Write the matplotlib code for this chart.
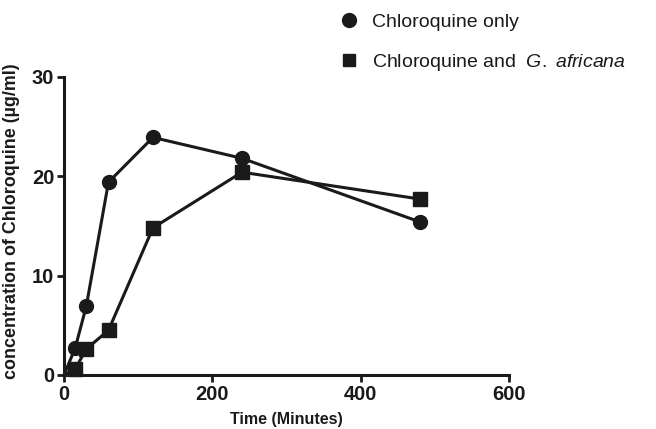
import matplotlib
matplotlib.use("Agg")
import matplotlib.pyplot as plt
from matplotlib.lines import Line2D

# data
time_min = [0, 15, 30, 60, 120, 240, 480]
cq_only = [0, 2.7, 6.9, 19.4, 23.9, 21.8, 15.4]
cq_ga = [0, 0.6, 2.6, 4.5, 14.8, 20.4, 17.7]
series_labels = ['Chloroquine only', 'Chloroquine and  $\\it{G.}$ $\\it{africana}$']

plt.rcParams['font.family'] = ['Liberation Sans', 'DejaVu Sans']
plt.rcParams['mathtext.fontset'] = 'custom'
plt.rcParams['mathtext.it'] = 'Liberation Sans:italic'
plt.rcParams['mathtext.rm'] = 'Liberation Sans'

ink = '#1a1a1a'
fig = plt.figure(figsize=(6.56, 4.29), dpi=100)
ax = fig.add_axes([0.0976, 0.126, 0.678, 0.695])

skip0 = list(range(1, len(time_min)))
ax.plot(time_min, cq_only, color=ink, lw=2.2, marker='o', ms=10,
        markevery=skip0, clip_on=False, zorder=3)
ax.plot(time_min, cq_ga, color=ink, lw=2.2, marker='s', ms=9.5,
        markevery=skip0, clip_on=False, zorder=3)

ax.set_xlim(0, 600)
ax.set_ylim(0, 30)
ax.set_xticks([0, 200, 400, 600])
ax.set_yticks([0, 10, 20, 30])

for s in ['top', 'right']:
    ax.spines[s].set_visible(False)
for s in ['left', 'bottom']:
    ax.spines[s].set_linewidth(2.2)
    ax.spines[s].set_color(ink)
ax.tick_params(width=2, length=5, color=ink, labelsize=14.5, pad=2)
for lbl in ax.get_xticklabels() + ax.get_yticklabels():
    lbl.set_fontweight('bold')
    lbl.set_color(ink)

ax.set_xlabel('Time (Minutes)', fontsize=11.5, fontweight='bold', color=ink, labelpad=6)
ax.set_ylabel('concentration of Chloroquine (µg/ml)', fontsize=12.9, fontweight='bold',
              color=ink)
ax.yaxis.set_label_coords(-0.098, 0.515)

handles = [Line2D([], [], ls='none', marker='o', ms=10, color=ink),
           Line2D([], [], ls='none', marker='s', ms=9, color=ink)]
fig.legend(handles, series_labels, loc='upper left', bbox_to_anchor=(0.506, 0.988),
           bbox_transform=fig.transFigure, borderaxespad=0, frameon=False,
           fontsize=14, handlelength=1.0, handletextpad=0.67, labelspacing=1.1,
           labelcolor=ink)

fig.savefig('out.png', dpi=100)
